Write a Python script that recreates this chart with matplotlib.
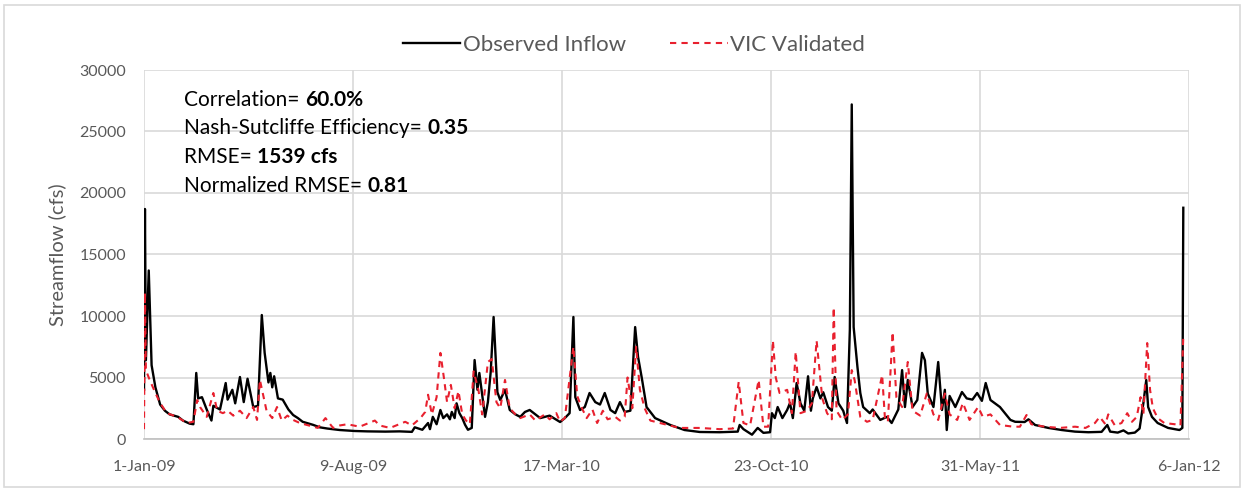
import matplotlib
matplotlib.use("Agg")
import matplotlib.pyplot as plt
from matplotlib.patches import Rectangle

plt.rcParams['font.family'] = ['Lato', 'DejaVu Sans']

# Day offsets from 1-Jan-2009
obs_days = [0, 1, 2, 5, 8, 12, 17, 22, 27, 36, 41, 48, 52, 55, 57, 61, 66, 71, 73, 80,
            86, 88, 93, 96, 101, 105, 109, 115, 120, 124, 127, 131, 133, 135, 137, 141, 146, 152, 157, 162,
            167, 178, 185, 193, 206, 222, 235, 254, 269, 282, 285, 293, 299, 301, 304, 308, 312, 315, 319, 322,
            324, 327, 329, 332, 335, 338, 341, 345, 348, 351, 353, 356, 359, 362, 365, 368, 372, 375, 380, 385,
            391, 396, 401, 406, 417, 427, 438, 443, 448, 452, 454, 459, 464, 469, 475, 480, 485, 491, 496, 501,
            506, 512, 517, 520, 524, 529, 538, 554, 569, 585, 606, 625, 627, 631, 640, 646, 652, 659, 661, 664,
            667, 672, 677, 680, 683, 687, 691, 695, 699, 702, 704, 708, 712, 715, 720, 724, 727, 731, 736, 740,
            743, 745, 747, 751, 754, 757, 764, 767, 775, 782, 787, 794, 798, 801, 804, 809, 814, 819, 822, 825,
            831, 836, 840, 843, 845, 848, 854, 861, 866, 872, 877, 882, 886, 891, 901, 912, 917, 927, 931, 938,
            952, 966, 980, 994, 1008, 1014, 1017, 1025, 1031, 1036, 1043, 1048, 1052, 1055, 1057, 1061, 1067, 1078, 1090, 1093,
            1094]
obs_vals = [4000, 18700, 6400, 13700, 6000, 4200, 2800, 2300, 2000, 1800, 1500, 1250, 1200, 5370, 3300, 3400, 2400, 1500, 2700, 2400,
            4550, 3200, 4000, 2900, 5040, 3000, 4900, 2600, 2700, 10080, 7000, 4600, 5370, 4200, 5100, 3300, 3200, 2400, 1950, 1700,
            1400, 1150, 950, 850, 730, 650, 620, 600, 620, 580, 950, 750, 1300, 800, 1800, 1200, 2360, 1700, 2000, 1600,
            2200, 1700, 2900, 2100, 1700, 1150, 750, 900, 6420, 4000, 5370, 3600, 1800, 3000, 5500, 9920, 3800, 3170, 4000, 2360,
            2000, 1800, 2200, 2360, 1700, 1900, 1380, 1700, 2100, 9920, 3400, 2360, 2600, 3740, 3000, 2800, 3740, 2360, 2100, 3000,
            2200, 2300, 9100, 6700, 4960, 2600, 1700, 1140, 730, 570, 550, 600, 1140, 800, 350, 900, 500, 550, 2100, 1700,
            2600, 1700, 2360, 2930, 1700, 4550, 2900, 2300, 5100, 2300, 3300, 4230, 3300, 3800, 2600, 2300, 5040, 2900, 2300, 1300,
            8900, 27200, 9100, 5850, 3740, 2600, 2100, 2400, 1550, 1800, 1300, 2400, 5600, 2600, 4800, 2600, 3170, 7000, 6400, 3700,
            2600, 6260, 2360, 4000, 730, 3500, 2600, 3820, 3300, 3200, 3740, 3100, 4550, 3170, 2600, 1550, 1400, 1380, 1600, 1140,
            900, 730, 600, 550, 580, 1140, 600, 520, 700, 450, 520, 850, 2930, 4800, 2600, 1800, 1300, 900, 730, 900,
            18800]

vic_days = [0, 1, 2, 6, 12, 17, 24, 35, 45, 52, 56, 59, 66, 73, 77, 83, 88, 94, 101, 108,
            115, 119, 122, 125, 129, 135, 140, 145, 151, 157, 164, 178, 183, 191, 199, 206, 214, 227, 243, 248,
            259, 275, 282, 291, 296, 299, 303, 308, 312, 316, 319, 323, 327, 331, 335, 339, 343, 347, 352, 356,
            362, 366, 371, 375, 380, 385, 391, 396, 406, 412, 422, 427, 434, 438, 443, 452, 456, 461, 466, 472,
            477, 483, 488, 496, 501, 506, 509, 514, 518, 522, 527, 533, 543, 564, 585, 606, 620, 626, 631, 638,
            647, 652, 657, 662, 665, 669, 677, 682, 686, 691, 698, 703, 708, 714, 719, 724, 726, 729, 735, 741,
            745, 748, 754, 761, 767, 777, 780, 783, 788, 792, 798, 804, 809, 817, 824, 831, 836, 843, 848, 856,
            862, 869, 878, 883, 891, 901, 915, 922, 929, 934, 948, 964, 980, 991, 1001, 1006, 1012, 1015, 1022, 1029,
            1035, 1040, 1045, 1049, 1052, 1056, 1059, 1062, 1067, 1074, 1085, 1091, 1094]
vic_vals = [800, 11900, 5600, 4800, 3740, 2930, 2100, 1800, 1300, 1400, 3170, 2600, 1800, 3740, 2300, 2100, 2300, 1900, 2300, 1700,
            2600, 1550, 4800, 3740, 2300, 1700, 2600, 1500, 1900, 1550, 1300, 1000, 900, 1700, 900, 1100, 1200, 1000, 1500, 1100,
            900, 1400, 1100, 1700, 2200, 3600, 2000, 3400, 7000, 4800, 3000, 4400, 2500, 3900, 2000, 1500, 1200, 5500, 4000, 2000,
            6260, 6500, 3000, 2500, 4800, 2500, 2000, 1700, 2000, 1500, 2000, 1600, 2100, 1400, 1700, 7500, 3500, 2500, 1700, 2400,
            1300, 2300, 1600, 1800, 1500, 1800, 5000, 2500, 7500, 4000, 2500, 1500, 1300, 900, 900, 800, 850, 4650, 1300, 1100,
            4800, 1000, 1000, 8000, 5000, 3740, 4000, 2100, 7100, 2100, 2300, 2900, 8000, 3300, 2100, 1600, 10700, 2300, 1550, 2000,
            5600, 4800, 1800, 1400, 1550, 5200, 1600, 1400, 8700, 3400, 2600, 6260, 2300, 1900, 3700, 2000, 1550, 3700, 2000, 1550,
            2930, 1550, 2600, 1800, 2000, 1140, 1000, 1000, 1950, 1200, 1000, 900, 1000, 900, 1300, 1800, 1200, 2000, 1100, 1300,
            2100, 1400, 1800, 3400, 2000, 7800, 4000, 2500, 1700, 1300, 1200, 1100, 8400]

tick_days = [0, 220, 440, 660, 880, 1100]
tick_labels = ['1-Jan-09', '9-Aug-09', '17-Mar-10', '23-Oct-10', '31-May-11', '6-Jan-12']
y_ticks = [0, 5000, 10000, 15000, 20000, 25000, 30000]

fig = plt.figure(figsize=(12.43, 4.9), dpi=100)
ax = fig.add_axes([144/1243, 1-439/490, 1045/1243, 369/490])

grid_c = '#d9d9d9'
text_c = '#595959'

ax.plot(obs_days, obs_vals, color='black', lw=1.7, label='Observed Inflow', zorder=3)
ax.plot(vic_days, vic_vals, color='#e8202e', lw=1.5, ls=(0, (3, 2.5)), label='VIC Validated', zorder=4)

ax.set_xlim(0, 1100)
ax.set_ylim(0, 30000)
ax.set_xticks(tick_days)
ax.set_xticklabels(tick_labels)
ax.set_yticks(y_ticks)
ax.set_yticklabels([str(v) for v in y_ticks])
ax.grid(True, color=grid_c, lw=1.2)
ax.set_axisbelow(True)
for s in ['top', 'right', 'left']:
    ax.spines[s].set_visible(False)
ax.spines['bottom'].set_color('#bfbfbf')
ax.spines['bottom'].set_linewidth(1.2)
ax.tick_params(axis='both', length=0, colors=text_c, labelsize=11.5)
ax.tick_params(axis='x', pad=15)
ax.tick_params(axis='y', pad=13)
ax.set_ylabel('Streamflow (cfs)', color=text_c, fontsize=14.5, labelpad=9)

leg = fig.legend(loc='center', bbox_to_anchor=(0.51, 1-45/490), ncol=2, frameon=False,
                 fontsize=16, handlelength=2.6, columnspacing=2.0, handletextpad=0.1)
for t in leg.get_texts():
    t.set_color(text_c)

# Stats text block
lines = [('Correlation= ', '60.0%'),
         ('Nash-Sutcliffe Efficiency= ', '0.35'),
         ('RMSE= ', '1539 cfs'),
         ('Normalized RMSE= ', '0.81')]
renderer = fig.canvas.get_renderer()
x0 = 184
for i, (norm, bold) in enumerate(lines):
    ypix = 100 + i * 28.5
    yf = 1 - ypix / 490
    t1 = fig.text(x0/1243, yf, norm, fontsize=15, color='black', va='center', ha='left')
    bb = t1.get_window_extent(renderer=renderer)
    fig.text(bb.x1/1243, yf, bold, fontsize=15, color='black', fontweight='bold', va='center', ha='left')

fig.patches.append(Rectangle((4/1243, 3/490), 1236/1243, 482/490, transform=fig.transFigure,
                             fill=False, edgecolor='#d9d9d9', lw=1.2))

fig.savefig('out.png', dpi=100)
